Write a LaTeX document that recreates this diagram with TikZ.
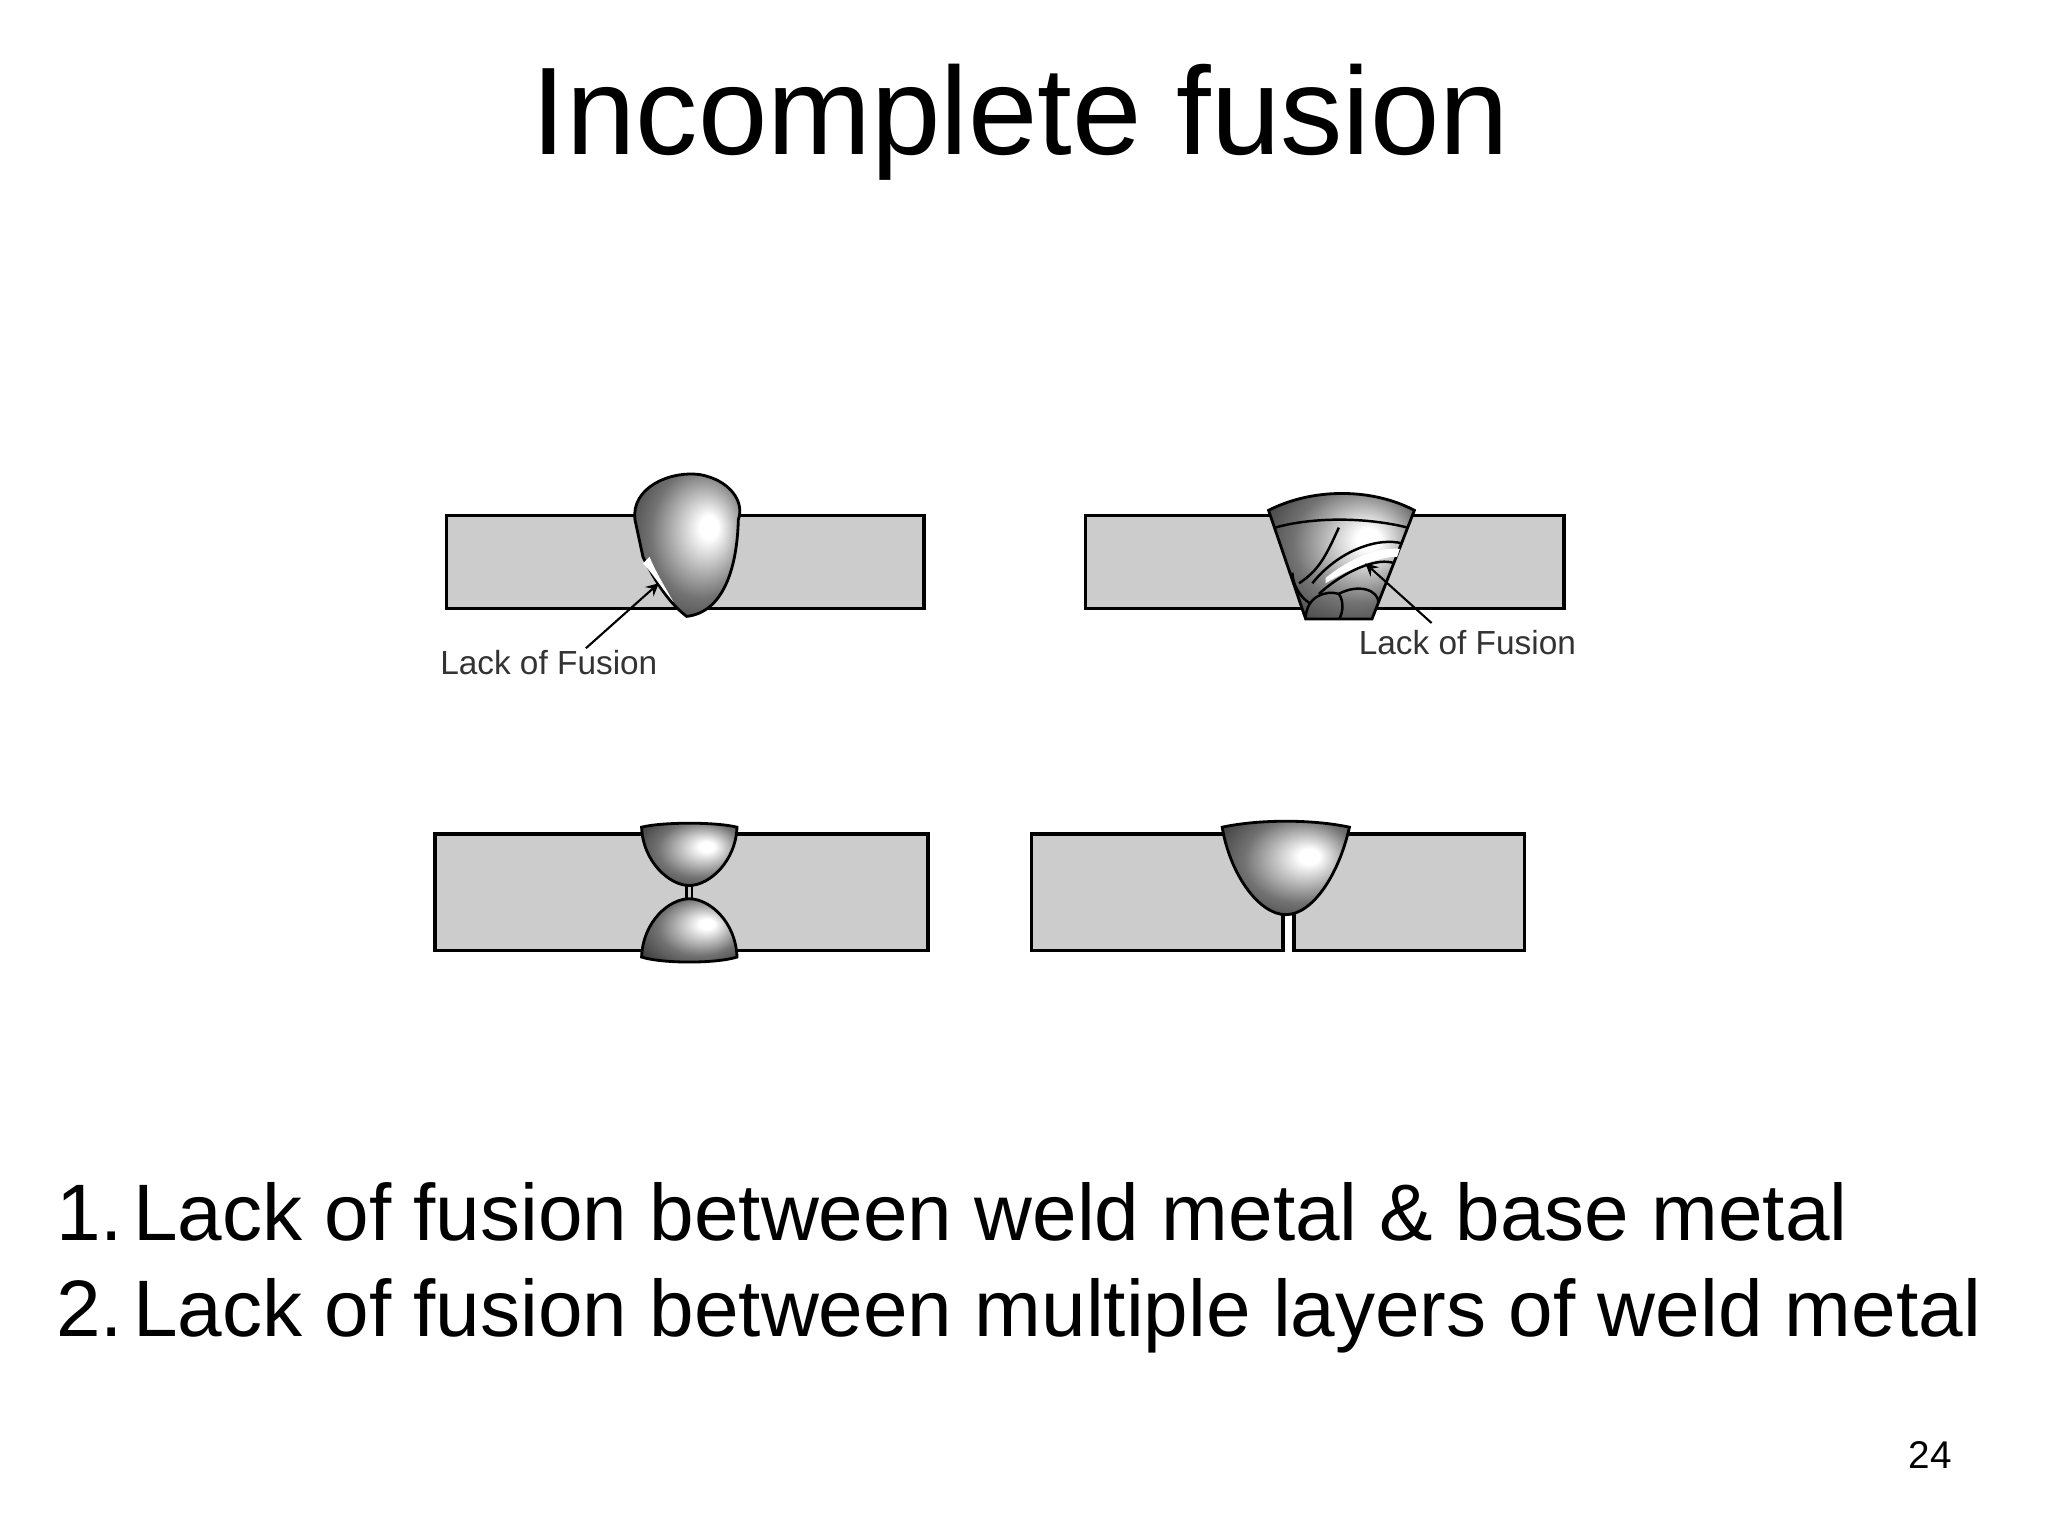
\documentclass[tikz,border=0pt]{standalone}
\usepackage{fontspec}
\setmainfont{Liberation Sans}
\pgfdeclareradialshading{weldshade}{\pgfpoint{10bp}{6bp}}{color(0bp)=(white); color(4bp)=(white); color(22bp)=(black!55); color(40bp)=(black!85); color(50bp)=(black)}
\tikzset{
 plate/.style={draw=black, fill=black!20, line width=1pt},
 weld/.style={draw=black, line width=0.8pt, shading=weldshade},
 lbl/.style={font=\fontsize{9.5}{12}\selectfont, text=black!80, inner sep=1pt},
 big/.style={font=\fontsize{22.8}{28}\selectfont, anchor=base west, inner sep=0pt},
 ptr/.style={-stealth, line width=0.6pt}
}
\begin{document}
\begin{tikzpicture}[x=0.013256cm, y=-0.013256cm]
\useasboundingbox (0,0) rectangle (1545,1159);
\node (title) at (770,92) {\fontsize{35.5}{42}\selectfont Incomplete fusion};
% plate 1
\draw[plate] (337,389) rectangle (697,459);
\path[weld] (479,392) .. controls (476,368) and (505,355) .. (528,358)
  .. controls (550,362) and (562,378) .. (557,392)
  .. controls (556,430) and (545,462) .. (518,465)
  .. controls (505,455) and (495,440) .. (485,420) -- cycle;
\fill[white] (485,425) .. controls (492,432) and (500,445) .. (508,454) .. controls (500,440) and (494,430) .. (490,420) -- cycle;
\node[lbl] (l1) at (414,500) {Lack of Fusion};
\coordinate (t1) at (497,440);
\draw[ptr] (442,489) -- (t1);
% plate 2
\draw[plate] (819,389) rectangle (1180,459);
\path[weld] (957,385) .. controls (990,368) and (1035,368) .. (1067,385)
  -- (1035,467) -- (985,467) -- cycle;
\draw[line width=0.7pt] (962,398) .. controls (990,390) and (1030,390) .. (1062,398);
\draw[line width=0.7pt] (1010,398) .. controls (1000,420) and (995,430) .. (980,440);
\draw[line width=0.7pt] (990,440) .. controls (1010,415) and (1040,405) .. (1058,410);
\draw[line width=0.7pt] (995,448) .. controls (1015,430) and (1040,420) .. (1052,425);
\fill[white] (1000,436) .. controls (1020,420) and (1040,413) .. (1056,414) -- (1054,420) .. controls (1040,420) and (1020,428) .. (1000,440) -- cycle;
\draw[line width=0.7pt] (985,467) .. controls (985,450) and (1000,445) .. (1010,448) .. controls (1015,455) and (1012,465) .. (1010,467);
\draw[line width=0.7pt] (1010,448) .. controls (1025,440) and (1040,445) .. (1040,455);
\draw[line width=0.7pt] (988,455) .. controls (980,450) and (975,440) .. (975,432);
\node[lbl] (l2) at (1107,485) {Lack of Fusion};
\coordinate (t2) at (1030,425);
\draw[ptr] (1080,470) -- (t2);
% plate 3
\draw[plate] (328,629) rectangle (700,717);
\path[weld] (484,624) .. controls (500,620) and (540,620) .. (556,624)
  .. controls (555,650) and (535,668) .. (520,668)
  .. controls (505,668) and (485,650) .. (484,624) -- cycle;
\path[weld] (484,722) .. controls (485,695) and (505,678) .. (520,678)
  .. controls (535,678) and (555,695) .. (556,722)
  .. controls (540,727) and (500,727) .. (484,722) -- cycle;
\draw[line width=0.8pt] (518,668) -- (518,678) (522,668) -- (522,678);
% plate 4
\draw[plate] (778,629) rectangle (968,717);
\draw[plate] (976,629) rectangle (1150,717);
\path[weld] (922,624) .. controls (950,618) and (990,618) .. (1018,624)
  .. controls (1010,660) and (990,690) .. (970,690)
  .. controls (950,690) and (928,660) .. (922,624) -- cycle;
% text
\node[big] (b1n) at (42,936) {1.};
\node[big] (b1) at (100,936) {Lack of fusion between weld metal \& base metal};
\node[big] (b2n) at (42,1008) {2.};
\node[big] (b2) at (100,1008) {Lack of fusion between multiple layers of weld metal};
\node (pg) at (1456,1098) {\fontsize{11}{14}\selectfont 24};
\end{tikzpicture}
\end{document}
